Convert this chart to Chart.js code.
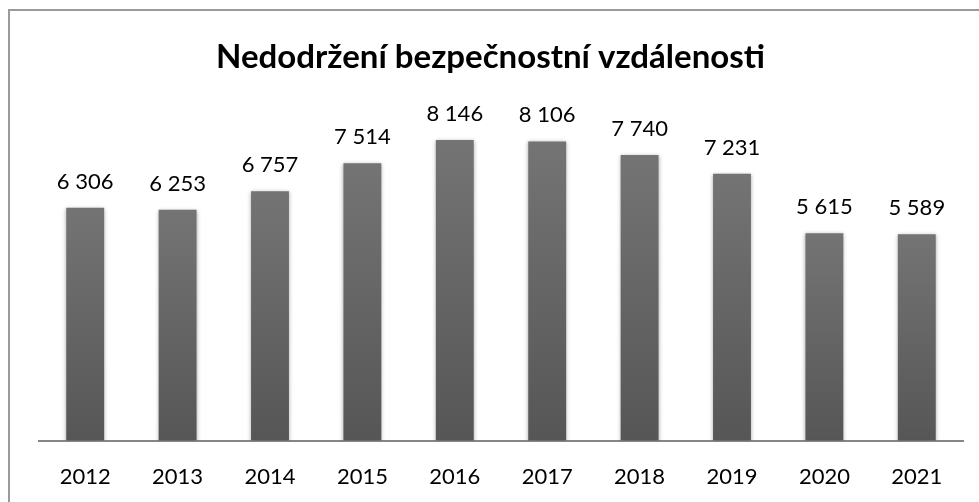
<!DOCTYPE html>
<html>
<head>
<meta charset="utf-8">
<script src="https://cdn.jsdelivr.net/npm/chart.js@4/dist/chart.umd.min.js"></script>
<style>
  html, body { margin: 0; padding: 0; background: #fff; }
  #wrap { width: 979px; height: 502px; position: relative; }
</style>
</head>
<body>
<div id="wrap"><canvas id="c" width="979" height="502"></canvas></div>
<script>
const categories = ['2012', '2013', '2014', '2015', '2016', '2017', '2018', '2019', '2020', '2021'];
const values = [6306, 6253, 6757, 7514, 8146, 8106, 7740, 7231, 5615, 5589];
const chartTitle = 'Nedodržení bezpečnostní vzdálenosti';

const FONT = 'Lato, "Open Sans", sans-serif';

function fmt(v) {
  return String(v).replace(/\B(?=(\d{3})+(?!\d))/g, ' ');
}

const framePlugin = {
  id: 'frame',
  beforeDraw(chart) {
    const ctx = chart.ctx;
    ctx.save();
    ctx.fillStyle = '#ffffff';
    ctx.fillRect(0, 0, chart.width, chart.height);
    ctx.strokeStyle = '#9a9a9a';
    ctx.lineWidth = 2;
    ctx.beginPath();
    ctx.moveTo(9, chart.height + 5);
    ctx.lineTo(9, 10);
    ctx.lineTo(chart.width + 5, 10);
    ctx.stroke();
    ctx.restore();
  },
  afterDraw(chart) {
    const ctx = chart.ctx;
    ctx.save();
    ctx.font = 'bold 33px ' + FONT;
    ctx.fillStyle = '#000000';
    ctx.textAlign = 'center';
    ctx.textBaseline = 'alphabetic';
    ctx.fillText(chartTitle, 490.5, 68);
    ctx.restore();
  }
};

const shadowPlugin = {
  id: 'barShadow',
  beforeDatasetsDraw(chart) {
    const ctx = chart.ctx;
    ctx.save();
    ctx.shadowColor = 'rgba(0,0,0,0.35)';
    ctx.shadowBlur = 4;
    ctx.shadowOffsetX = 0;
    ctx.shadowOffsetY = 1;
  },
  afterDatasetsDraw(chart) {
    chart.ctx.restore();
  }
};

const labelPlugin = {
  id: 'valueLabels',
  afterDatasetsDraw(chart) {
    const ctx = chart.ctx;
    const meta = chart.getDatasetMeta(0);
    ctx.save();
    ctx.font = '22px ' + FONT;
    ctx.fillStyle = '#000000';
    ctx.textAlign = 'center';
    ctx.textBaseline = 'alphabetic';
    meta.data.forEach((bar, i) => {
      ctx.fillText(fmt(chart.data.datasets[0].data[i]), bar.x, bar.y - 19);
    });
    ctx.restore();
  }
};

new Chart(document.getElementById('c'), {
  type: 'bar',
  data: {
    labels: categories,
    datasets: [{
      data: values,
      backgroundColor(ctx) {
        const chart = ctx.chart;
        const ys = chart.scales && chart.scales.y;
        if (!ys || ctx.raw == null) return '#666666';
        const top = ys.getPixelForValue(ctx.raw);
        const bottom = ys.getPixelForValue(0);
        if (!isFinite(top) || !isFinite(bottom) || top === bottom) return '#666666';
        const g = chart.ctx.createLinearGradient(0, top, 0, bottom);
        g.addColorStop(0, '#747474');
        g.addColorStop(1, '#565656');
        return g;
      },
      borderWidth: 0,
      barPercentage: 0.82,
      categoryPercentage: 0.5
    }]
  },
  options: {
    responsive: false,
    animation: false,
    layout: { padding: { left: 39, right: 16, top: 108.4, bottom: 12 } },
    plugins: {
      legend: { display: false },
      tooltip: { enabled: false },
      title: { display: false }
    },
    scales: {
      x: {
        grid: { display: false, drawTicks: true, tickLength: 23 },
        border: { display: true, color: '#868686', width: 2 },
        ticks: { color: '#000000', font: { family: FONT, size: 22 }, padding: 0, maxRotation: 0 }
      },
      y: {
        display: false,
        min: 0,
        max: 9000
      }
    }
  },
  plugins: [framePlugin, shadowPlugin, labelPlugin]
});
</script>
</body>
</html>
